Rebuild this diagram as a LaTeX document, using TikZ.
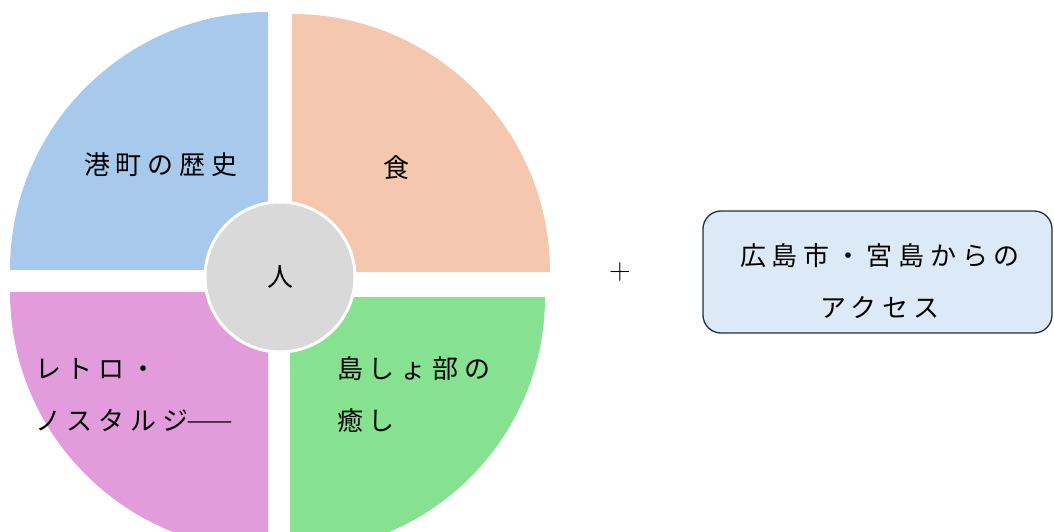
\documentclass[tikz,border=0pt]{standalone}
\usepackage{fontspec}
\newfontfamily\cjk[LetterSpace=22]{Noto Sans CJK JP}
\newfontfamily\dashfont{Liberation Serif}
\definecolor{qblue}{HTML}{A7C9EB}
\definecolor{qpeach}{HTML}{F5C7AE}
\definecolor{qpink}{HTML}{E29CDC}
\definecolor{qgreen}{HTML}{86E290}
\definecolor{qgray}{HTML}{D9D9D9}
\definecolor{boxfill}{HTML}{DCE9F6}
\definecolor{boxline}{HTML}{1E2F3E}
\begin{document}
\begin{tikzpicture}[x=1pt,y=1pt,
  lbl/.style={inner sep=0pt, text=black, font=\cjk\fontsize{26}{52}\selectfont},
  hub/.style={circle, fill=qgray, draw=white, line width=3pt, minimum size=150pt, inner sep=0pt, font=\cjk\fontsize{26}{28}\selectfont},
  accessbox/.style={draw=boxline, fill=boxfill, line width=1.3pt, rounded corners=18pt}]
\useasboundingbox (0,0) rectangle (1054,531);
\clip (0,0) rectangle (1054,531);
% quarter pieces
\fill[qblue] (268,261) -- (268,519) arc[start angle=90, end angle=180, radius=258] -- cycle;
\fill[qpeach] (292,259) -- (292,517) arc[start angle=90, end angle=0, radius=258] -- cycle;
\fill[qpink] (268,239) -- (10,239) arc[start angle=180, end angle=270, radius=258] -- cycle;
\fill[qgreen] (290,234) -- (545,234) arc[start angle=0, end angle=-90, radius=255] -- cycle;
% centre
\node[hub] (hito) at (280,254) {人};
% labels
\node[lbl, anchor=west] (minato) at (84,366) {港町の歴史};
\node[lbl] (shoku) at (396,363) {食};
\node[lbl, anchor=west, align=left] (retro) at (35,136) {レトロ・\\ノスタルジ{\dashfont\raisebox{0.08em}{\scalebox{1.65}[1]{—}}}};
\node[lbl, anchor=west, align=left] (iyashi) at (337,136) {島しょ部の\\癒し};
% plus
\node[inner sep=0pt, font=\fontsize{30}{34}\selectfont] (plus) at (620,259) {+};
% access box
\draw[accessbox] (703,198) rectangle (1052,320);
\node[lbl, align=center] (access) at (880,250) {広島市・宮島からの\\アクセス};
\end{tikzpicture}
\end{document}
